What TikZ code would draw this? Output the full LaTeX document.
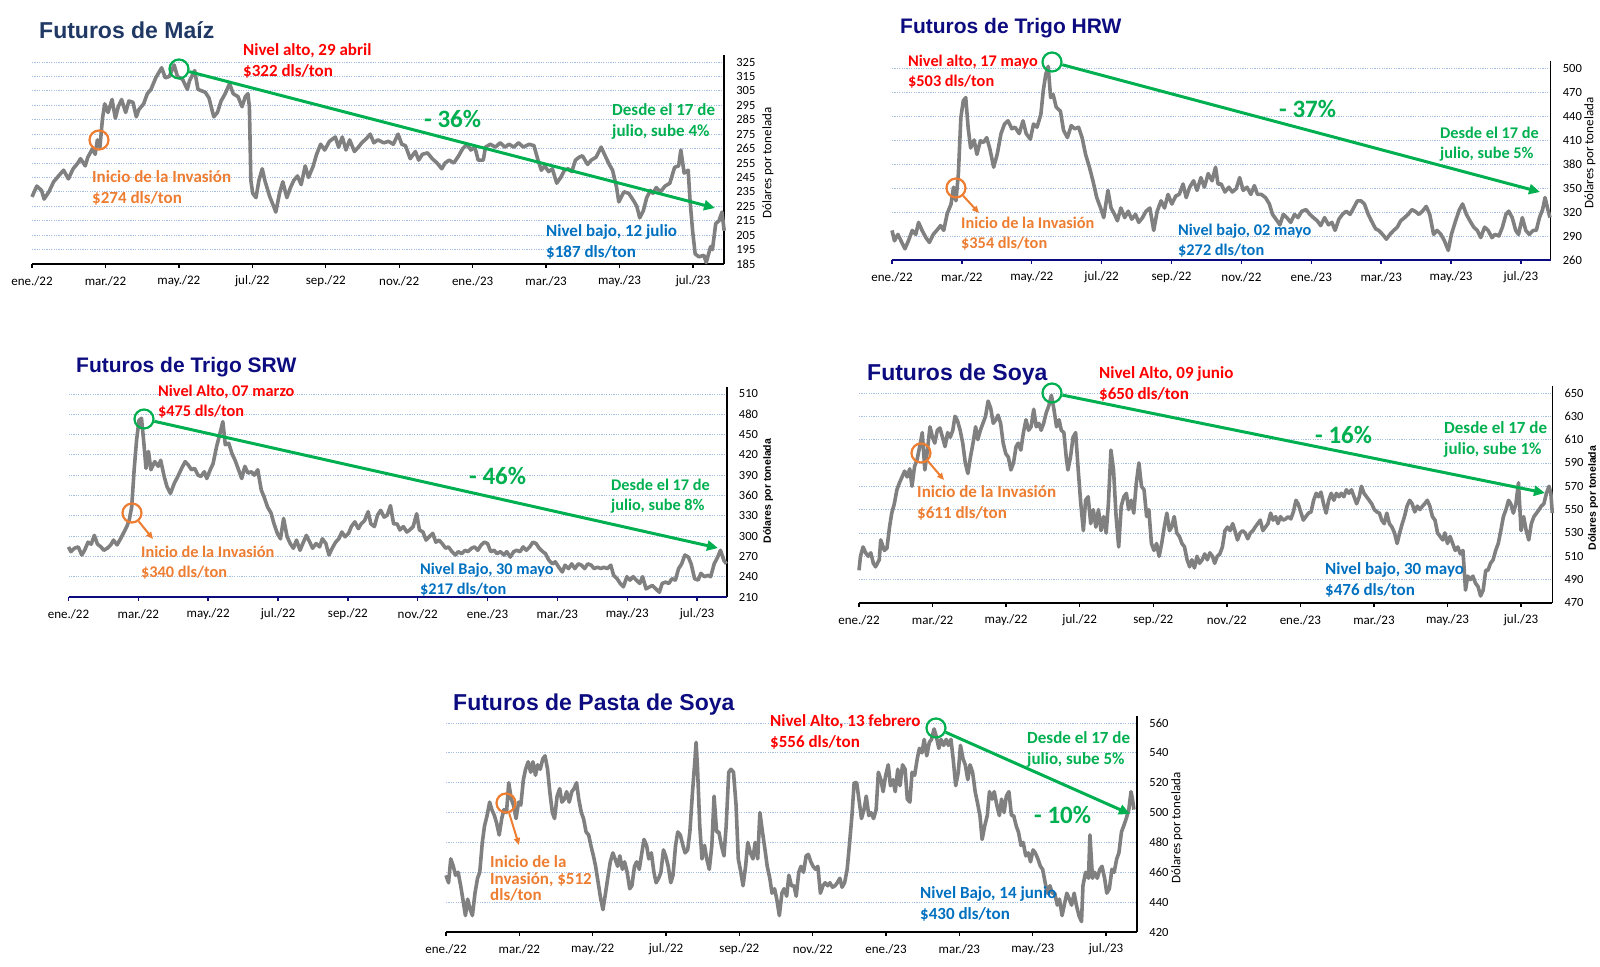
\documentclass[tikz,border=0pt]{standalone}
\usepackage{fontspec}
\setmainfont{Carlito}
\newfontfamily\titfont{Liberation Sans}
\usetikzlibrary{arrows.meta}

\definecolor{rojo}{RGB}{255,0,0}
\definecolor{naranja}{RGB}{237,125,49}
\definecolor{verde}{RGB}{0,176,80}
\definecolor{azul}{RGB}{0,112,192}
\definecolor{gris}{RGB}{128,128,128}
\definecolor{marino}{RGB}{12,12,128}
\definecolor{pizarra}{RGB}{31,56,100}
\definecolor{rejillac}{RGB}{165,190,228}

\tikzset{
  serie/.style={gris, line width=3.6pt, line join=round},
  rejilla/.style={rejillac, line width=0.8pt, dash pattern=on 1.2pt off 1.2pt},
  ejex/.style={line width=2.2pt},
  marcax/.style={line width=1.4pt},
  ejey/.style={line width=1.6pt},
  etiqy/.style={anchor=west, xshift=12pt, inner sep=0pt, font=\fontsize{12.5}{14}\selectfont},
  etiqx/.style={yshift=-17pt, inner sep=0pt, font=\fontsize{13}{15}\selectfont},
  titeje/.style={rotate=90, inner sep=0pt, font=\fontsize{13}{15}\selectfont},
  titejeb/.style={rotate=90, inner sep=0pt, font=\titfont\bfseries\fontsize{10.5}{12}\selectfont},
  titulo/.style={anchor=base west, inner sep=0pt, font=\titfont\bfseries\fontsize{23}{26}\selectfont},
  titulob/.style={titulo, font=\titfont\bfseries\fontsize{21}{24}\selectfont},
  nota/.style={anchor=west, align=left, inner sep=0pt, font=\bfseries\fontsize{17}{21}\selectfont},
  notab/.style={nota, font=\bfseries\fontsize{16.3}{19.5}\selectfont},
  porc/.style={verde, anchor=west, inner sep=0pt, font=\bfseries\fontsize{25}{30}\selectfont},
  marca/.style={circle, draw, line width=2.2pt, minimum size=19pt, inner sep=0pt},
  flecha/.style={verde, line width=3pt, -{Triangle[length=11pt, width=10pt]}},
  flechan/.style={naranja, line width=2pt, -{Triangle[length=7pt, width=6pt]}}
}

\newcommand{\meses}{ene./22,mar./22,may./22,jul./22,sep./22,nov./22,ene./23,mar./23,may./23,jul./23}

% marco de una grafica: piso, rejilla, tope, color del eje x, prefijo
\newcommand{\marco}[5]{%
  \foreach \v in {#2} \draw[rejilla] (0,\v) -- (18.85,\v);
  \draw[ejey] (18.85,#1) -- (18.85,#3) -- ++(0,7pt);
  \node[etiqy] (#5y#1) at (18.85,#1) {#1};
  \foreach \v in {#2} \node[etiqy] (#5y\v) at (18.85,\v) {\v};
  \draw[ejex,#4] (0,#1) -- (18.85,#1);
  \foreach \t [count=\i from 0] in \meses {%
    \draw[marcax,#4] ({2*\i},#1) -- ++(0,-4pt);
    \node[etiqx] (#5m\i) at ({2*\i},#1) {\t};
  }%
}

\begin{document}
\begin{tikzpicture}[x=1pt, y=-1pt]
\useasboundingbox (0,0) rectangle (1600,966);

% Maiz
\begin{scope}[shift={(32pt,-530.96pt)}, x=36.72pt, y=1.443pt]
  \marco{185}{195,205,...,325}{325}{black}{a}
  \draw[serie] plot coordinates {(0,231.5) (0.13,239) (0.26,236) (0.33,230) (0.46,235) (0.59,242) (0.79,248) (0.86,250) (0.99,244) (1.12,251) (1.25,255) (1.32,258) (1.45,253) (1.52,259) (1.65,265) (1.72,261) (1.78,271) (1.85,266) (1.92,286) (1.98,296) (2.07,290) (2.18,299) (2.27,286) (2.35,294) (2.44,299) (2.55,290) (2.64,298) (2.75,297) (2.84,287) (2.91,292) (3.04,296) (3.14,303) (3.24,306) (3.37,314) (3.53,321) (3.63,314) (3.74,315) (3.87,323) (3.96,315) (4.10,313) (4.23,306) (4.29,312) (4.43,319) (4.52,306) (4.62,305) (4.72,304) (4.82,300) (4.95,287) (5.05,290) (5.15,298) (5.26,303) (5.38,310) (5.48,303) (5.61,301) (5.72,294) (5.81,301) (5.88,303) (5.92,294) (5.96,243) (6.01,234) (6.10,231) (6.18,243) (6.27,251) (6.34,243) (6.47,232) (6.58,225) (6.64,221) (6.74,234) (6.83,242) (6.94,231) (7.04,238) (7.13,243) (7.23,246) (7.33,240) (7.44,253) (7.53,245) (7.66,253) (7.75,261) (7.86,268) (7.97,264) (8.10,270) (8.26,273) (8.35,266) (8.45,273) (8.55,264) (8.65,271) (8.78,263) (8.89,266) (8.98,269) (9.11,272) (9.21,275) (9.31,269) (9.42,271) (9.58,269) (9.71,270) (9.84,268) (9.97,275) (10.07,268) (10.17,267) (10.30,258) (10.44,263) (10.53,257) (10.63,261) (10.77,262) (10.90,258) (11.03,255) (11.16,251) (11.25,255) (11.36,257) (11.49,255) (11.62,260) (11.73,265) (11.85,268) (11.95,264) (12.06,266) (12.15,257) (12.29,257) (12.35,266) (12.48,268) (12.62,266) (12.75,269) (12.88,266) (12.99,268) (13.12,266) (13.25,269) (13.38,266) (13.54,268) (13.67,267) (13.78,257) (13.87,250) (13.96,253) (14.07,249) (14.17,251) (14.29,241) (14.40,245) (14.50,250) (14.60,251) (14.70,249) (14.80,257) (14.90,259) (14.99,260) (15.13,254) (15.23,257) (15.36,259) (15.50,266) (15.59,261) (15.72,254) (15.81,250) (15.92,238) (15.98,228) (16.12,235) (16.25,234) (16.38,229) (16.47,225) (16.55,217) (16.65,222) (16.74,231) (16.84,236) (16.91,234) (17.00,238) (17.11,235) (17.24,239) (17.37,241) (17.50,252) (17.61,253) (17.67,264) (17.76,248) (17.87,250) (17.92,229) (17.99,208) (18.06,192) (18.16,190) (18.30,191) (18.36,186) (18.48,197) (18.53,195) (18.62,213) (18.71,215) (18.79,221) (18.85,208)};
\end{scope}
\node[titulo, pizarra] (tita) at (39,39) {Futuros de Maíz};
\node[titeje] (dola) at (768,163) {Dólares por tonelada};
\node[nota, rojo] (altoa) at (243,60.5) {Nivel alto, 29 abril\\\$322 dls/ton};
\node[nota, naranja] (inia) at (92,187.5) {Inicio de la Invasión\\\$274 dls/ton};
\node[porc] (porca) at (424,119) {- 36\%};
\node[nota, verde] (desdea) at (612,121.5) {Desde el 17 de\\julio, sube 4\%};
\node[nota, azul] (bajoa) at (546,241.5) {Nivel bajo, 12 julio\\\$187 dls/ton};
\node[marca, verde] (picoa) at (179,69) {};
\node[marca, naranja] (inva) at (99,140) {};
\coordinate (fina) at (715,208);
\draw[flecha] (picoa) -- (fina);

% Trigo HRW
\begin{scope}[shift={(892pt,-468pt)}, x=34.94pt, y=0.8pt]
  \marco{260}{290,320,...,500}{500}{marino}{b}
  \draw[serie] plot coordinates {(0,297) (.07,284) (.17,292) (.28,282) (.37,274) (.47,284) (.58,297) (.68,292) (.76,307) (.86,297) (.97,288) (1.07,282) (1.18,292) (1.28,297) (1.39,303) (1.48,297) (1.58,318) (1.69,330) (1.76,351) (1.83,334) (1.90,368) (1.97,438) (2.04,459) (2.11,463) (2.18,425) (2.25,400) (2.35,410) (2.43,392) (2.53,409) (2.62,407) (2.71,413) (2.80,399) (2.91,376) (3.01,392) (3.12,418) (3.22,430) (3.32,434) (3.43,424) (3.52,426) (3.64,418) (3.75,434) (3.84,418) (3.96,411) (4.05,430) (4.15,426) (4.26,442) (4.33,472) (4.40,492) (4.47,502) (4.54,463) (4.61,467) (4.70,451) (4.82,446) (4.91,422) (5.02,413) (5.13,428) (5.23,424) (5.34,426) (5.44,413) (5.54,392) (5.65,376) (5.75,359) (5.86,338) (5.97,325) (6.06,313) (6.18,347) (6.27,325) (6.37,317) (6.45,309) (6.55,325) (6.66,313) (6.76,321) (6.86,311) (6.97,317) (7.06,307) (7.17,313) (7.27,321) (7.38,325) (7.49,297) (7.59,321) (7.70,334) (7.80,325) (7.90,342) (8.01,330) (8.12,340) (8.22,342) (8.33,355) (8.42,338) (8.52,351) (8.63,359) (8.73,347) (8.84,363) (8.94,351) (9.05,368) (9.16,359) (9.26,376) (9.33,355) (9.42,355) (9.53,345) (9.64,351) (9.74,345) (9.85,349) (9.95,363) (10.05,347) (10.16,351) (10.27,342) (10.37,353) (10.46,342) (10.57,342) (10.69,338) (10.80,330) (10.89,317) (10.99,311) (11.10,304) (11.20,317) (11.30,313) (11.41,307) (11.52,317) (11.62,313) (11.73,321) (11.85,323) (11.96,317) (12.06,313) (12.17,309) (12.27,303) (12.38,313) (12.49,304) (12.59,307) (12.68,297) (12.79,311) (12.89,317) (13.00,321) (13.11,317) (13.21,325) (13.32,334) (13.42,334) (13.52,330) (13.63,317) (13.72,309) (13.84,299) (13.93,297) (14.04,292) (14.15,286) (14.25,292) (14.36,297) (14.46,301) (14.56,309) (14.67,313) (14.77,317) (14.88,323) (14.97,321) (15.08,317) (15.18,321) (15.29,327) (15.39,317) (15.50,292) (15.60,297) (15.71,292) (15.81,284) (15.92,272) (16.01,292) (16.13,309) (16.24,323) (16.33,330) (16.44,317) (16.54,309) (16.65,301) (16.75,297) (16.85,288) (16.96,301) (17.06,297) (17.17,288) (17.26,292) (17.37,290) (17.47,301) (17.57,317) (17.65,321) (17.75,313) (17.85,297) (17.93,292) (18.04,313) (18.14,297) (18.24,292) (18.35,297) (18.44,297) (18.53,313) (18.62,323) (18.69,338) (18.76,325) (18.83,313)};
\end{scope}
\node[titulob, marino] (titb) at (900,34) {Futuros de Trigo HRW};
\node[titeje] (dolb) at (1590,153) {Dólares por tonelada};
\node[notab, rojo] (altob) at (908,71.5) {Nivel alto, 17 mayo\\\$503 dls/ton};
\node[notab, naranja] (inib) at (961,233.5) {Inicio de la Invasión\\\$354 dls/ton};
\node[porc] (porcb) at (1279,109) {- 37\%};
\node[notab, verde] (desdeb) at (1440,144) {Desde el 17 de\\julio, sube 5\%};
\node[notab, azul] (bajob) at (1178,240.5) {Nivel bajo, 02 mayo\\\$272 dls/ton};
\node[marca, verde] (picob) at (1052,62) {};
\node[marca, naranja] (invb) at (956,188) {};
\coordinate (finb) at (1540,192);
\coordinate (pinvb) at (979,213);
\draw[flecha] (picob) -- (finb);
\draw[flechan] (invb) -- (pinvb);

% Trigo SRW
\begin{scope}[shift={(68.5pt,-739.17pt)}, x=34.92pt, y=0.677pt]
  \marco{210}{240,270,...,510}{510}{marino}{c}
  \draw[serie] plot coordinates {(0,284) (.07,277) (.17,282) (.28,284) (.38,272) (.46,279) (.56,291) (.65,288) (.74,301) (.83,288) (.93,284) (1.01,279) (1.11,282) (1.21,287) (1.29,294) (1.39,287) (1.49,296) (1.57,304) (1.67,314) (1.74,324) (1.81,343) (1.88,398) (1.95,442) (2.02,471) (2.09,474) (2.15,442) (2.22,400) (2.29,425) (2.36,398) (2.47,410) (2.57,403) (2.64,412) (2.74,388) (2.82,373) (2.92,363) (3.03,378) (3.13,388) (3.24,400) (3.34,410) (3.43,405) (3.52,398) (3.61,400) (3.71,390) (3.79,388) (3.89,395) (3.96,385) (4.06,398) (4.14,407) (4.24,432) (4.34,452) (4.42,469) (4.49,435) (4.59,437) (4.68,422) (4.77,412) (4.87,398) (4.96,385) (5.05,403) (5.14,393) (5.24,395) (5.32,390) (5.42,398) (5.52,368) (5.60,358) (5.70,343) (5.80,334) (5.88,319) (5.98,304) (6.07,296) (6.16,326) (6.26,299) (6.35,289) (6.44,282) (6.53,294) (6.63,279) (6.71,289) (6.81,301) (6.91,291) (6.99,282) (7.09,289) (7.19,284) (7.27,296) (7.37,289) (7.46,272) (7.55,282) (7.65,291) (7.74,296) (7.83,306) (7.92,299) (8.02,304) (8.10,314) (8.20,321) (8.30,311) (8.38,318) (8.48,323) (8.58,336) (8.66,318) (8.76,314) (8.85,331) (8.94,338) (9.04,328) (9.13,331) (9.22,345) (9.31,318) (9.41,318) (9.49,309) (9.59,314) (9.69,306) (9.77,309) (9.87,314) (9.97,333) (10.05,309) (10.15,306) (10.24,294) (10.33,299) (10.43,304) (10.52,291) (10.61,294) (10.70,289) (10.80,282) (10.88,284) (10.98,277) (11.08,272) (11.16,277) (11.26,274) (11.36,279) (11.44,277) (11.54,282) (11.63,284) (11.72,279) (11.82,287) (11.91,291) (12.00,289) (12.09,277) (12.19,279) (12.27,274) (12.37,277) (12.47,272) (12.55,277) (12.65,269) (12.75,277) (12.83,279) (12.93,277) (13.02,284) (13.11,279) (13.21,284) (13.30,291) (13.39,289) (13.48,282) (13.58,277) (13.66,274) (13.76,264) (13.86,259) (13.94,262) (14.04,254) (14.14,247) (14.22,257) (14.32,252) (14.41,259) (14.50,252) (14.60,259) (14.69,257) (14.78,252) (14.87,259) (14.97,257) (15.05,252) (15.15,254) (15.25,252) (15.33,254) (15.43,252) (15.53,257) (15.61,242) (15.71,237) (15.80,230) (15.89,225) (15.99,240) (16.08,235) (16.17,240) (16.26,235) (16.36,230) (16.44,240) (16.54,222) (16.64,225) (16.72,227) (16.82,222) (16.92,217) (17.00,230) (17.10,232) (17.19,230) (17.28,237) (17.38,235) (17.47,252) (17.56,259) (17.65,272) (17.75,269) (17.83,259) (17.93,237) (18.03,235) (18.11,245) (18.21,240) (18.31,242) (18.39,240) (18.49,259) (18.59,269) (18.67,279) (18.77,264) (18.84,259)};
\end{scope}
\node[titulob, marino] (titc) at (76,372) {Futuros de Trigo SRW};
\node[titejeb] (dolc) at (768,491) {Dólares por tonelada};
\node[notab, rojo] (altoc) at (158,401.5) {Nivel Alto, 07 marzo\\\$475 dls/ton};
\node[notab, naranja] (inic) at (141,562.5) {Inicio de la Invasión\\\$340 dls/ton};
\node[porc] (porcc) at (469,476) {- 46\%};
\node[notab, verde] (desdec) at (611,496) {Desde el 17 de\\julio, sube 8\%};
\node[notab, azul] (bajoc) at (420,579.5) {Nivel Bajo, 30 mayo\\\$217 dls/ton};
\node[marca, verde] (picoc) at (144,419) {};
\node[marca, naranja] (invc) at (132,513) {};
\coordinate (finc) at (718,548);
\coordinate (pinvc) at (153,539);
\draw[flecha] (picoc) -- (finc);
\draw[flechan] (invc) -- (pinvc);

% Soya
\begin{scope}[shift={(859pt,-1151.3pt)}, x=36.78pt, y=1.1667pt]
  \marco{470}{490,510,...,650}{650}{black}{d}
  \draw[serie] plot coordinates {(0,498) (.04,510) (.11,518) (.18,513) (.25,510) (.32,513) (.39,504) (.45,501) (.55,507) (.59,524) (.69,515) (.76,517) (.83,535) (.89,547) (.96,555) (1.03,567) (1.10,573) (1.17,578) (1.24,583) (1.31,578) (1.38,585) (1.44,570) (1.51,587) (1.58,593) (1.65,604) (1.72,616) (1.79,584) (1.86,601) (1.93,621) (2.00,612) (2.06,607) (2.13,618) (2.20,620) (2.27,612) (2.34,604) (2.41,616) (2.48,612) (2.55,618) (2.61,630) (2.68,626) (2.75,618) (2.82,607) (2.89,590) (2.96,581) (3.03,595) (3.10,607) (3.17,621) (3.23,610) (3.30,618) (3.37,624) (3.44,630) (3.51,643) (3.58,637) (3.65,624) (3.72,627) (3.78,631) (3.85,624) (3.92,607) (3.99,598) (4.06,595) (4.13,584) (4.20,590) (4.27,604) (4.33,607) (4.40,601) (4.47,616) (4.54,627) (4.61,618) (4.68,621) (4.75,636) (4.82,621) (4.89,624) (4.95,618) (5.02,624) (5.09,633) (5.16,639) (5.23,648) (5.30,636) (5.37,621) (5.44,627) (5.50,618) (5.57,616) (5.64,593) (5.68,584) (5.75,595) (5.82,612) (5.89,616) (5.96,584) (6.03,555) (6.10,532) (6.16,558) (6.23,561) (6.30,538) (6.37,550) (6.44,535) (6.51,550) (6.58,532) (6.65,544) (6.72,530) (6.78,555) (6.85,601) (6.92,584) (6.99,544) (7.06,518) (7.13,553) (7.20,561) (7.27,564) (7.33,550) (7.40,558) (7.47,547) (7.54,573) (7.61,590) (7.68,570) (7.75,567) (7.82,544) (7.88,550) (7.95,521) (8.02,515) (8.09,521) (8.16,510) (8.23,521) (8.30,535) (8.37,547) (8.44,532) (8.50,535) (8.57,544) (8.64,530) (8.71,527) (8.78,521) (8.85,518) (8.92,507) (8.99,501) (9.05,507) (9.12,500) (9.19,510) (9.26,504) (9.33,507) (9.40,512) (9.47,507) (9.54,513) (9.61,510) (9.67,504) (9.74,510) (9.81,512) (9.88,518) (9.95,532) (10.02,535) (10.09,532) (10.16,538) (10.22,532) (10.29,524) (10.36,530) (10.43,532) (10.50,530) (10.57,525) (10.64,530) (10.71,532) (10.77,535) (10.84,538) (10.91,541) (10.98,532) (11.05,535) (11.12,538) (11.19,547) (11.26,541) (11.33,544) (11.39,538) (11.46,544) (11.53,541) (11.60,542) (11.67,544) (11.74,542) (11.81,548) (11.88,558) (11.94,555) (12.01,548) (12.08,541) (12.15,544) (12.22,547) (12.29,548) (12.36,558) (12.43,564) (12.49,561) (12.56,565) (12.63,555) (12.70,547) (12.77,558) (12.84,564) (12.91,558) (12.98,564) (13.05,561) (13.11,564) (13.18,561) (13.25,567) (13.32,564) (13.39,567) (13.46,561) (13.53,555) (13.60,561) (13.66,570) (13.73,564) (13.80,561) (13.87,558) (13.94,555) (14.01,550) (14.08,548) (14.15,547) (14.21,541) (14.28,538) (14.35,547) (14.42,538) (14.49,535) (14.56,530) (14.63,521) (14.70,530) (14.77,538) (14.83,544) (14.90,553) (14.97,558) (15.04,555) (15.11,548) (15.18,553) (15.25,550) (15.32,553) (15.38,555) (15.45,558) (15.52,553) (15.59,544) (15.66,541) (15.73,530) (15.80,527) (15.87,524) (15.93,530) (16.00,521) (16.07,527) (16.14,521) (16.21,515) (16.28,518) (16.35,512) (16.42,515) (16.49,481) (16.55,493) (16.62,490) (16.69,493) (16.76,487) (16.83,484) (16.90,476) (16.97,481) (17.04,498) (17.10,498) (17.17,504) (17.24,507) (17.31,515) (17.38,521) (17.45,532) (17.52,544) (17.59,550) (17.66,558) (17.72,555) (17.79,547) (17.86,555) (17.93,573) (18.00,532) (18.07,544) (18.14,532) (18.21,524) (18.28,538) (18.35,544) (18.42,547) (18.49,550) (18.55,553) (18.62,555) (18.69,564) (18.76,570) (18.81,564) (18.85,547)};
\end{scope}
\node[titulo, marino] (titd) at (867,380) {Futuros de Soya};
\node[titejeb] (dold) at (1593,498) {Dólares por tonelada};
\node[nota, rojo] (altod) at (1099,383.5) {Nivel Alto, 09 junio\\\$650 dls/ton};
\node[nota, naranja] (inid) at (917,502.5) {Inicio de la Invasión\\\$611 dls/ton};
\node[porc] (porcd) at (1315,435) {- 16\%};
\node[nota, verde] (desded) at (1444,439) {Desde el 17 de\\julio, sube 1\%};
\node[nota, azul] (bajod) at (1325,579.5) {Nivel bajo, 30 mayo\\\$476 dls/ton};
\node[marca, verde] (picod) at (1052,393) {};
\node[marca, naranja] (invd) at (921,453) {};
\coordinate (find) at (1545,493);
\coordinate (pinvd) at (944,480);
\draw[flecha] (picod) -- (find);
\draw[flechan] (invd) -- (pinvd);

% Pasta de soya
\begin{scope}[shift={(446pt,-1559.06pt)}, x=36.67pt, y=1.493pt]
  \marco{420}{440,460,...,560}{560}{black}{e}
  \draw[serie] plot coordinates {(0,458) (.07,453) (.13,469) (.20,464) (.26,458) (.33,460) (.40,451) (.46,442) (.53,431) (.59,442) (.66,435) (.72,431) (.79,446) (.86,456) (.92,460) (.99,480) (1.05,491) (1.12,498) (1.19,507) (1.25,502) (1.32,498) (1.38,493) (1.45,485) (1.52,496) (1.58,502) (1.65,500) (1.71,520) (1.78,509) (1.84,505) (1.91,496) (1.98,507) (2.04,505) (2.11,522) (2.17,529) (2.24,534) (2.31,527) (2.37,534) (2.44,525) (2.50,532) (2.57,529) (2.64,536) (2.70,538) (2.77,529) (2.83,514) (2.90,500) (2.96,496) (3.03,511) (3.10,516) (3.16,507) (3.23,509) (3.29,514) (3.36,507) (3.43,514) (3.49,516) (3.56,520) (3.62,509) (3.69,500) (3.75,496) (3.82,487) (3.89,485) (3.95,478) (4.02,471) (4.08,464) (4.15,453) (4.22,442) (4.28,435) (4.35,446) (4.41,456) (4.48,467) (4.55,473) (4.61,469) (4.68,464) (4.74,471) (4.81,462) (4.87,467) (4.94,460) (5.01,449) (5.07,451) (5.14,464) (5.20,467) (5.27,462) (5.34,473) (5.40,482) (5.47,478) (5.53,469) (5.60,473) (5.67,460) (5.73,453) (5.80,456) (5.86,460) (5.93,475) (5.99,471) (6.06,464) (6.13,453) (6.19,458) (6.26,478) (6.32,487) (6.39,485) (6.46,478) (6.52,473) (6.59,475) (6.65,487) (6.72,513) (6.79,536) (6.82,547) (6.86,529) (6.92,491) (6.98,469) (7.05,478) (7.11,469) (7.18,462) (7.25,478) (7.31,511) (7.38,487) (7.44,487) (7.51,478) (7.58,471) (7.64,491) (7.71,527) (7.77,529) (7.84,527) (7.91,505) (7.97,469) (8.04,460) (8.10,451) (8.17,464) (8.23,480) (8.30,473) (8.37,469) (8.43,480) (8.50,469) (8.56,500) (8.63,487) (8.70,475) (8.76,464) (8.83,456) (8.89,446) (8.96,449) (9.02,442) (9.09,431) (9.16,446) (9.22,449) (9.29,444) (9.35,458) (9.42,451) (9.49,451) (9.55,444) (9.62,460) (9.68,464) (9.75,460) (9.82,471) (9.88,472) (9.95,467) (10.01,464) (10.08,462) (10.14,464) (10.21,446) (10.28,451) (10.34,453) (10.41,451) (10.47,453) (10.54,450) (10.61,451) (10.67,453) (10.74,456) (10.80,450) (10.87,453) (10.94,462) (11.00,478) (11.07,498) (11.13,520) (11.20,520) (11.26,509) (11.33,496) (11.40,502) (11.46,511) (11.53,498) (11.59,500) (11.66,496) (11.73,502) (11.79,527) (11.86,522) (11.92,514) (11.99,525) (12.06,532) (12.12,518) (12.19,522) (12.25,514) (12.32,529) (12.38,518) (12.45,532) (12.52,529) (12.58,509) (12.65,507) (12.71,527) (12.78,525) (12.85,536) (12.91,543) (12.98,540) (13.04,549) (13.11,538) (13.18,547) (13.24,549) (13.31,556) (13.37,551) (13.44,543) (13.50,549) (13.57,545) (13.64,549) (13.70,545) (13.77,549) (13.83,536) (13.90,518) (13.97,527) (14.03,545) (14.10,536) (14.16,532) (14.23,522) (14.29,532) (14.36,527) (14.43,514) (14.49,507) (14.56,498) (14.62,482) (14.69,491) (14.76,498) (14.82,514) (14.89,509) (14.95,514) (15.02,505) (15.09,498) (15.15,509) (15.22,500) (15.28,511) (15.35,514) (15.42,498) (15.48,498) (15.55,491) (15.61,487) (15.68,478) (15.74,480) (15.81,471) (15.88,473) (15.94,467) (16.01,475) (16.07,473) (16.14,469) (16.21,464) (16.27,462) (16.34,453) (16.40,446) (16.47,451) (16.53,446) (16.60,446) (16.67,438) (16.73,442) (16.80,431) (16.86,438) (16.93,446) (17.00,442) (17.06,438) (17.13,446) (17.19,438) (17.26,431) (17.33,427) (17.37,451) (17.44,460) (17.52,456) (17.56,485) (17.63,456) (17.69,460) (17.76,456) (17.83,462) (17.89,464) (17.96,456) (18.02,446) (18.09,449) (18.16,462) (18.22,460) (18.29,469) (18.35,473) (18.42,487) (18.48,491) (18.55,496) (18.62,502) (18.68,514) (18.72,509) (18.76,502)};
\end{scope}
\node[titulo, marino] (tite) at (453,710) {Futuros de Pasta de Soya};
\node[titeje] (dole) at (1177,828) {Dólares por tonelada};
\node[nota, rojo] (altoe) at (770,731.5) {Nivel Alto, 13 febrero\\\$556 dls/ton};
\node[nota, naranja, font=\bfseries\fontsize{17}{16.5}\selectfont] (inie) at (490,878.5) {Inicio de la\\Invasión, \$512\\dls/ton};
\node[porc] (porce) at (1034,815) {- 10\%};
\node[nota, verde] (desdee) at (1027,749) {Desde el 17 de\\julio, sube 5\%};
\node[nota, azul] (bajoe) at (920,904) {Nivel Bajo, 14 junio\\\$430 dls/ton};
\node[marca, verde] (picoe) at (936,728) {};
\node[marca, naranja] (inve) at (506,803) {};
\coordinate (fine) at (1130,814);
\coordinate (pinve) at (519,845);
\draw[flecha] (picoe) -- (fine);
\draw[flechan] (inve) -- (pinve);
\end{tikzpicture}
\end{document}
